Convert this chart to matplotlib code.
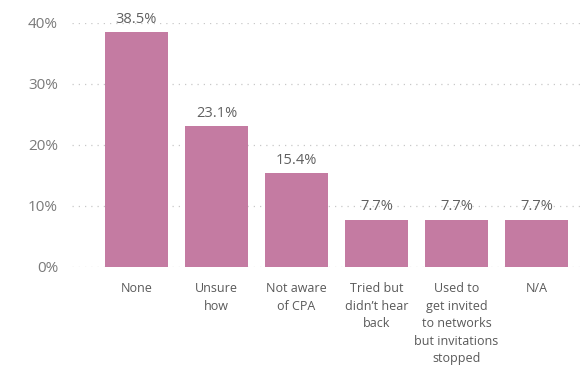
import matplotlib
matplotlib.use("Agg")
import matplotlib.pyplot as plt

categories = ["None", "Unsure\nhow", "Not aware\nof CPA", "Tried but\ndidn\u2019t hear\nback",
              "Used to\nget invited\nto networks\nbut invitations\nstopped", "N/A"]
values = [38.5, 23.1, 15.4, 7.7, 7.7, 7.7]
yticks = [0, 10, 20, 30, 40]

plt.rcParams['font.family'] = ['Open Sans', 'DejaVu Sans']

fig = plt.figure(figsize=(5.88, 3.66), dpi=100)
ax = fig.add_axes([72/588, (366-267)/366, 508/588, 244/366])

x = list(range(len(categories)))
bars = ax.bar(x, values, width=0.79, color="#C47BA2", zorder=2)
for xi, v in zip(x, values):
    ax.annotate(f"{v:.1f}%", (xi, v), xytext=(0, 4), textcoords="offset points",
                ha="center", va="bottom", fontsize=10.5, color="#606060",
                annotation_clip=False)

ax.set_xlim(-0.806, 5.544)
ax.set_ylim(0, 40)
ax.set_yticks(yticks)
ax.set_yticklabels([f"{t}%" for t in yticks], fontsize=11, color="#7a7a7a")
ax.tick_params(axis="y", length=0, pad=10)
ax.set_xticks(x)
ax.set_xticklabels(categories, fontsize=9, color="#595959", linespacing=1.45, va="top")
ax.tick_params(axis="x", length=0, pad=11)
ax.grid(axis="y", color="#c8c8c8", linestyle=(0, (1, 4)), linewidth=0.9, zorder=0)
for s in ax.spines.values():
    s.set_visible(False)

fig.savefig("out.png", dpi=100)
